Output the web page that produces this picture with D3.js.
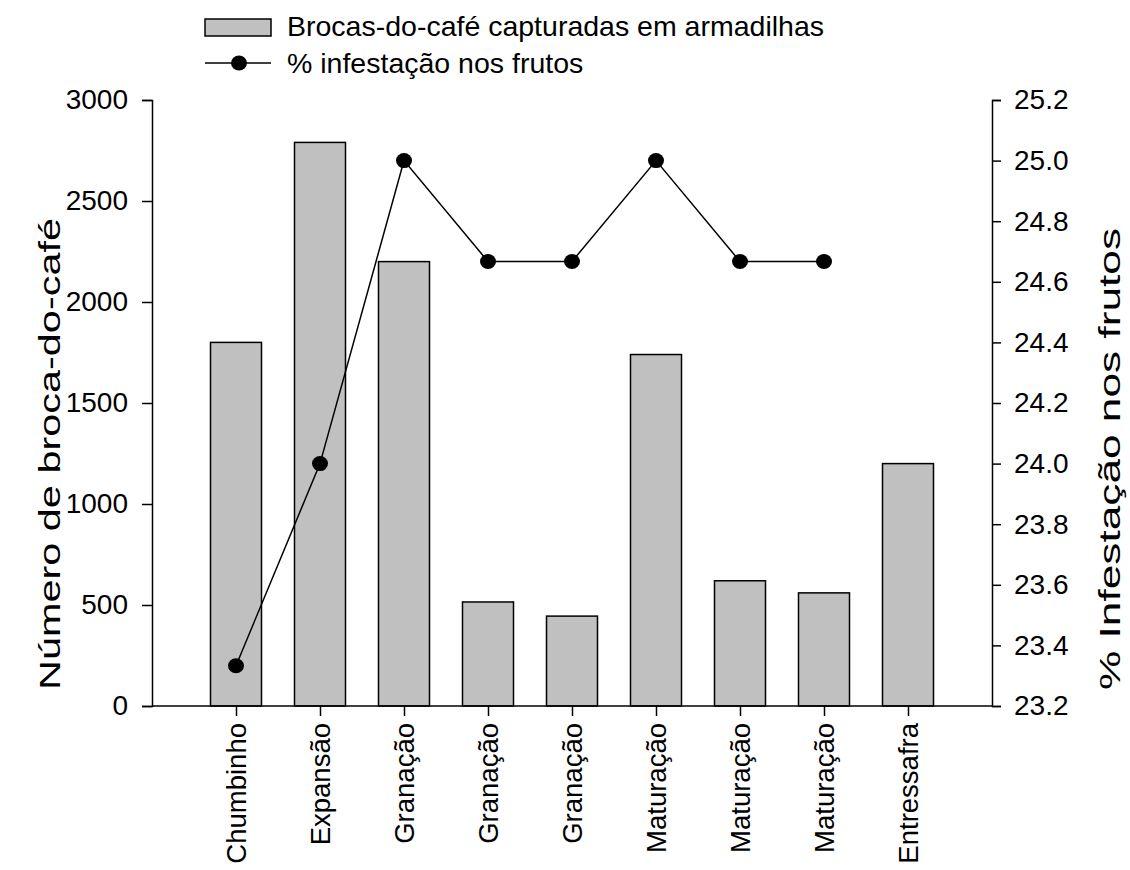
<!DOCTYPE html>
<html>
<head>
<meta charset="utf-8">
<script src="https://cdn.jsdelivr.net/npm/d3@7"></script>
<style>
  body { margin: 0; background: #fff; }
  text { font-family: "Liberation Sans", Arial, sans-serif; }
</style>
</head>
<body>
<script>
// dados
const fases = ["Chumbinho", "Expansão", "Granação", "Granação", "Granação", "Maturação", "Maturação", "Maturação", "Entressafra"];
const brocas = [1800, 2790, 2200, 515, 445, 1740, 620, 560, 1200];
const infestacao = [23.333, 24.0, 25.0, 24.667, 24.667, 25.0, 24.667, 24.667];
const ticksEsq = [0, 500, 1000, 1500, 2000, 2500, 3000];
const ticksDir = [23.2, 23.4, 23.6, 23.8, 24.0, 24.2, 24.4, 24.6, 24.8, 25.0, 25.2];

const W = 1130, H = 870;
const m = {left: 152, right: 992, top: 100, bottom: 706};

const svg = d3.select("body").append("svg").attr("width", W).attr("height", H);

const x = d3.scalePoint()
  .domain(d3.range(fases.length))
  .range([m.left, m.right])
  .padding(1);
const yL = d3.scaleLinear().domain([0, 3000]).range([m.bottom, m.top]);
const yR = d3.scaleLinear().domain([23.2, 25.2]).range([m.bottom, m.top]);
const bw = 51;

// barras
svg.append("g").selectAll("rect")
  .data(brocas)
  .join("rect")
    .attr("x", (d, i) => x(i) - bw / 2)
    .attr("y", d => yL(d))
    .attr("width", bw)
    .attr("height", d => yL(0) - yL(d))
    .attr("fill", "#c0c0c0")
    .attr("stroke", "#000")
    .attr("stroke-width", 1.5);

// eixos
function estilo(g) {
  g.selectAll("path,line").attr("stroke", "#000").attr("stroke-width", 1.5);
  g.selectAll("text").attr("font-size", 28).attr("fill", "#000")
    .style("font-family", "Liberation Sans, Arial, sans-serif");
}

svg.append("g")
  .attr("transform", `translate(${m.left},0)`)
  .call(d3.axisLeft(yL).tickValues(ticksEsq).tickFormat(d3.format("d")).tickSize(10).tickSizeOuter(10).tickPadding(14))
  .call(estilo);

svg.append("g")
  .attr("transform", `translate(${m.right},0)`)
  .call(d3.axisRight(yR).tickValues(ticksDir).tickFormat(d3.format(".1f")).tickSize(9).tickSizeOuter(9).tickPadding(13))
  .call(estilo);

const eixoX = svg.append("g")
  .attr("transform", `translate(0,${m.bottom})`)
  .call(d3.axisBottom(x).tickFormat(i => fases[i]).tickSize(10).tickSizeOuter(0))
  .call(estilo);
eixoX.select(".domain").attr("d", `M${m.left},0H${m.right}`);
eixoX.selectAll(".tick text")
  .attr("font-size", 27.5)
  .attr("transform", "rotate(-90)")
  .attr("text-anchor", "end")
  .attr("x", -17)
  .attr("y", 0)
  .attr("dy", "0.35em");

// linha
const linha = d3.line().x((d, i) => x(i)).y(d => yR(d));
svg.append("path")
  .datum(infestacao)
  .attr("d", linha)
  .attr("fill", "none")
  .attr("stroke", "#000")
  .attr("stroke-width", 1.5);
svg.append("g").selectAll("ellipse")
  .data(infestacao)
  .join("ellipse")
    .attr("cx", (d, i) => x(i))
    .attr("cy", d => yR(d))
    .attr("rx", 8)
    .attr("ry", 7.5)
    .attr("fill", "#000");

// títulos
svg.append("text")
  .attr("transform", "translate(60,454) rotate(-90)")
  .attr("text-anchor", "middle")
  .attr("font-size", 30)
  .attr("textLength", 472)
  .attr("lengthAdjust", "spacingAndGlyphs")
  .text("Número de broca-do-café");
svg.append("text")
  .attr("transform", "translate(1120,459) rotate(-90)")
  .attr("text-anchor", "middle")
  .attr("font-size", 30)
  .attr("textLength", 462)
  .attr("lengthAdjust", "spacingAndGlyphs")
  .text("% Infestação nos frutos");

// legenda
const leg = svg.append("g");
leg.append("rect").attr("x", 205).attr("y", 19).attr("width", 66).attr("height", 17)
  .attr("fill", "#c0c0c0").attr("stroke", "#000").attr("stroke-width", 1.5);
leg.append("text").attr("x", 287).attr("y", 36).attr("font-size", 28.5)
  .text("Brocas-do-café capturadas em armadilhas");
leg.append("line").attr("x1", 205).attr("x2", 271).attr("y1", 63).attr("y2", 63)
  .attr("stroke", "#000").attr("stroke-width", 1.5);
leg.append("ellipse").attr("cx", 239).attr("cy", 63).attr("rx", 8).attr("ry", 7.5).attr("fill", "#000");
leg.append("text").attr("x", 287).attr("y", 73).attr("font-size", 28.5)
  .text("% infestação nos frutos");
</script>
</body>
</html>
